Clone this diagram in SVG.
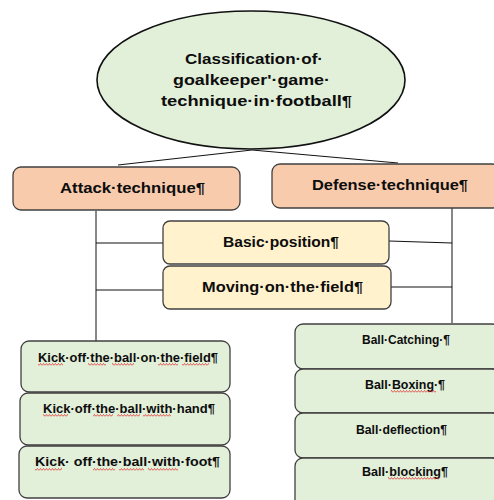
<svg xmlns="http://www.w3.org/2000/svg" width="494" height="500" viewBox="0 0 494 500">
<style>
.t{font-family:"Liberation Sans",Arial,sans-serif;font-weight:bold;fill:#0d0d0d}
.big{font-size:15.5px}
.mid{font-size:15.5px}
.sm{font-size:12.5px}
.box{stroke:#404040;stroke-width:1.3}
.peach{fill:#f8cbad}
.yel{fill:#fff2cc}
.grn{fill:#e2efd9}
.conn line{stroke:#111;stroke-width:1}
</style>
<defs>
<pattern id="wave" patternUnits="userSpaceOnUse" width="3" height="3">
<path d="M0 2.5 L1.5 0.5 L3 2.5" fill="none" stroke="#e02020" stroke-width="0.7"/>
</pattern>
</defs>
<rect width="494" height="500" fill="#fff"/>
<g class="conn" id="connectors">
<line x1="252" y1="150" x2="118" y2="165"/>
<line x1="252" y1="150" x2="398" y2="163"/>
<line x1="96" y1="211" x2="96" y2="341"/>
<line x1="96" y1="243" x2="163" y2="243"/>
<line x1="96" y1="290" x2="163" y2="290"/>
<line x1="452" y1="208" x2="452" y2="323"/>
<line x1="389" y1="241" x2="452" y2="243"/>
<line x1="391" y1="287" x2="452" y2="287"/>
</g>
<g id="root">
<ellipse cx="251" cy="80" rx="154" ry="69" fill="#e2efd9" stroke="#111" stroke-width="1.6"/>
<text class="t big" x="185" y="64" textLength="138" lengthAdjust="spacingAndGlyphs">Classification·of·</text>
<text class="t big" x="173" y="85" textLength="157" lengthAdjust="spacingAndGlyphs">goalkeeper'·game·</text>
<text class="t big" x="161" y="106" textLength="191" lengthAdjust="spacingAndGlyphs">technique·in·football¶</text>
</g>
<g id="attack">
<rect class="box peach" x="13" y="167" width="227" height="43" rx="8"/>
<text class="t mid" x="60" y="193" textLength="145" lengthAdjust="spacingAndGlyphs">Attack·technique¶</text>
</g>
<g id="defense">
<rect class="box peach" x="272" y="164" width="228" height="44" rx="8"/>
<text class="t mid" x="312" y="190" textLength="156" lengthAdjust="spacingAndGlyphs">Defense·technique¶</text>
</g>
<g id="basic">
<rect class="box yel" x="163" y="221" width="226" height="43" rx="7"/>
<text class="t mid" x="223" y="247" textLength="116" lengthAdjust="spacingAndGlyphs">Basic·position¶</text>
</g>
<g id="moving">
<rect class="box yel" x="163" y="266" width="228" height="43" rx="7"/>
<text class="t mid" x="202" y="292" textLength="161" lengthAdjust="spacingAndGlyphs">Moving·on·the·field¶</text>
</g>
<g id="kick-field">
<rect class="box grn" x="21" y="341" width="209" height="51" rx="8"/>
<text class="t sm" x="38" y="362" textLength="180" lengthAdjust="spacingAndGlyphs">Kick·off·the·ball·on·the·field¶</text>
<rect x="38" y="363" width="25" height="3" fill="url(#wave)"/>
<rect x="88" y="363" width="18" height="3" fill="url(#wave)"/>
<rect x="112" y="363" width="22" height="3" fill="url(#wave)"/>
<rect x="158" y="363" width="20" height="3" fill="url(#wave)"/>
<rect x="182" y="363" width="27" height="3" fill="url(#wave)"/>
</g>
<g id="kick-hand">
<rect class="box grn" x="20" y="393" width="210" height="52" rx="8"/>
<text class="t sm" x="43" y="413" textLength="172" lengthAdjust="spacingAndGlyphs">Kick·off·the·ball·with·hand¶</text>
<rect x="43" y="414" width="25" height="3" fill="url(#wave)"/>
<rect x="93" y="414" width="20" height="3" fill="url(#wave)"/>
<rect x="117" y="414" width="23" height="3" fill="url(#wave)"/>
<rect x="143" y="414" width="28" height="3" fill="url(#wave)"/>
</g>
<g id="kick-foot">
<rect class="box grn" x="19" y="446" width="211" height="52" rx="8"/>
<text class="t sm" x="35" y="466" textLength="185" lengthAdjust="spacingAndGlyphs">Kick· off·the·ball·with·foot¶</text>
<rect x="35" y="468" width="27" height="3" fill="url(#wave)"/>
<rect x="93" y="468" width="22" height="3" fill="url(#wave)"/>
<rect x="119" y="468" width="25" height="3" fill="url(#wave)"/>
<rect x="148" y="468" width="30" height="3" fill="url(#wave)"/>
</g>
<g id="catching">
<rect class="box grn" x="295" y="324" width="205" height="45" rx="8"/>
<text class="t sm" x="362" y="344" textLength="88" lengthAdjust="spacingAndGlyphs">Ball·Catching·¶</text>
</g>
<g id="boxing">
<rect class="box grn" x="295" y="369" width="205" height="44" rx="8"/>
<text class="t sm" x="365" y="389" textLength="80" lengthAdjust="spacingAndGlyphs">Ball·Boxing·¶</text>
<rect x="391" y="390" width="45" height="3" fill="url(#wave)"/>
</g>
<g id="deflection">
<rect class="box grn" x="295" y="413" width="205" height="45" rx="8"/>
<text class="t sm" x="356" y="434" textLength="91" lengthAdjust="spacingAndGlyphs">Ball·deflection¶</text>
</g>
<g id="blocking">
<rect class="box grn" x="295" y="458" width="205" height="50" rx="8"/>
<text class="t sm" x="362" y="476" textLength="86" lengthAdjust="spacingAndGlyphs">Ball·blocking¶</text>
<rect x="388" y="477" width="51" height="3" fill="url(#wave)"/>
</g>
</svg>
